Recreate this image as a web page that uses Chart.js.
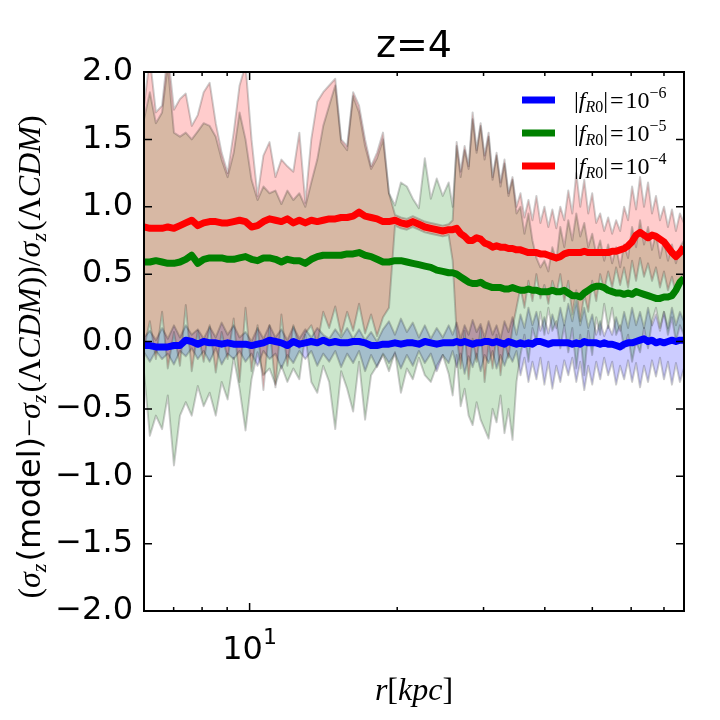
<!DOCTYPE html>
<html>
<head>
<meta charset="utf-8">
<script src="https://cdn.jsdelivr.net/npm/chart.js@4.4.1/dist/chart.umd.min.js"></script>
<style>
html, body { margin: 0; padding: 0; background: #fff; }
#wrap { width: 720px; height: 720px; }
</style>
</head>
<body>
<div id="wrap"><canvas id="chart" width="720" height="720"></canvas></div>
<script>
// radius in kpc (log axis)
var rKpc = [6.09, 6.26, 6.44, 6.63, 6.81, 7.01, 7.21, 7.41, 7.62, 7.84,
    8.06, 8.29, 8.53, 8.77, 9.02, 9.28, 9.54, 9.81, 10.09, 10.38,
    10.67, 10.98, 11.29, 11.61, 11.94, 12.28, 12.63, 12.99, 13.36, 13.74,
    14.13, 14.53, 14.95, 15.37, 15.81, 16.26, 16.72, 17.20, 17.69, 18.19,
    18.71, 19.24, 19.79, 20.35, 20.93, 21.52, 22.14, 22.77, 23.42, 24.08,
    24.77, 25.47,
    25.95, 26.44, 26.94, 27.45, 27.97, 28.50, 29.04, 29.59, 30.15, 30.72,
    31.30, 31.89, 32.49, 33.10, 33.73, 34.37, 35.02, 35.68, 36.35, 37.04,
    37.74, 38.45, 39.18, 39.92, 40.67, 41.44, 42.22, 43.02, 43.83, 44.66,
    45.51, 46.37, 47.24, 48.14, 49.05, 49.97, 50.92, 51.88, 52.86, 53.86,
    54.88, 55.91, 56.97, 58.05, 59.14, 60.26, 61.40, 62.56, 63.74, 64.95,
    66.17, 67.42, 68.70, 70.00, 71.32, 72.67, 74.04, 75.44, 76.87];

// mean curves
var blueMid = [-0.03, -0.03, -0.04, -0.04, -0.04, -0.03, -0.03, 0.01, 0.00, -0.02,
    0.00, -0.01, -0.01, -0.02, -0.01, -0.02, -0.02, -0.02, -0.03, -0.02,
    -0.01, 0.01, 0.00, -0.01, -0.03, 0.00, -0.02, -0.01, 0.00, -0.01,
    0.01, -0.01, 0.00, -0.01, -0.01, 0.00, 0.00, -0.01, -0.03, -0.03,
    -0.02, -0.02, -0.01, -0.02, -0.01, -0.01, -0.02, 0.00, -0.01, -0.02,
    -0.01, -0.01,
    -0.01, 0.00, -0.01, 0.00, -0.01, -0.02, -0.01, -0.01, 0.00, 0.00,
    -0.01, 0.00, -0.01, -0.02, 0.00, -0.01, -0.02, -0.01, -0.02, -0.01,
    -0.02, 0.00, 0.00, -0.01, -0.02, -0.01, -0.01, -0.01, -0.01, -0.01,
    -0.02, -0.01, -0.02, 0.00, -0.01, -0.01, -0.01, -0.02, -0.01, -0.02,
    -0.02, -0.03, -0.04, -0.02, -0.01, -0.01, 0.00, 0.01, 0.02, 0.00,
    0.01, -0.01, 0.00, -0.01, 0.00, 0.01, 0.00, 0.01, 0.01];
var greenMid = [0.59, 0.59, 0.60, 0.59, 0.58, 0.58, 0.59, 0.61, 0.64, 0.58,
    0.61, 0.62, 0.62, 0.62, 0.61, 0.61, 0.62, 0.63, 0.61, 0.60,
    0.62, 0.62, 0.61, 0.59, 0.61, 0.60, 0.60, 0.58, 0.61, 0.63,
    0.64, 0.64, 0.64, 0.64, 0.65, 0.65, 0.66, 0.64, 0.63, 0.61,
    0.59, 0.59, 0.60, 0.60, 0.59, 0.58, 0.57, 0.56, 0.55, 0.53,
    0.52, 0.51,
    0.51, 0.50, 0.48, 0.46, 0.44, 0.43, 0.43, 0.44, 0.42, 0.41,
    0.40, 0.40, 0.40, 0.39, 0.39, 0.40, 0.39, 0.38, 0.38, 0.39,
    0.38, 0.38, 0.37, 0.37, 0.37, 0.38, 0.37, 0.37, 0.38, 0.36,
    0.34, 0.34, 0.33, 0.36, 0.38, 0.40, 0.41, 0.41, 0.40, 0.38,
    0.37, 0.36, 0.36, 0.35, 0.36, 0.35, 0.37, 0.36, 0.35, 0.34,
    0.33, 0.32, 0.32, 0.33, 0.33, 0.34, 0.38, 0.44, 0.47];
var redMid = [0.85, 0.84, 0.84, 0.84, 0.85, 0.84, 0.86, 0.88, 0.90, 0.86,
    0.88, 0.89, 0.89, 0.88, 0.88, 0.89, 0.90, 0.89, 0.85, 0.86,
    0.89, 0.91, 0.90, 0.89, 0.91, 0.88, 0.90, 0.88, 0.90, 0.89,
    0.90, 0.91, 0.91, 0.92, 0.92, 0.93, 0.96, 0.93, 0.92, 0.91,
    0.89, 0.89, 0.90, 0.88, 0.87, 0.89, 0.87, 0.85, 0.84, 0.83,
    0.82, 0.83,
    0.83, 0.84, 0.80, 0.78, 0.75, 0.75, 0.77, 0.76, 0.73, 0.72,
    0.70, 0.71, 0.70, 0.70, 0.69, 0.69, 0.68, 0.68, 0.67, 0.66,
    0.66, 0.66, 0.65, 0.65, 0.64, 0.63, 0.62, 0.63, 0.65, 0.66,
    0.66, 0.66, 0.66, 0.67, 0.66, 0.66, 0.66, 0.66, 0.66, 0.66,
    0.67, 0.67, 0.68, 0.69, 0.71, 0.74, 0.79, 0.81, 0.79, 0.77,
    0.79, 0.78, 0.76, 0.74, 0.70, 0.66, 0.63, 0.66, 0.70];

// scatter bands (upper / lower edges)
var blueHi = [0.03, 0.08, 0.01, 0.10, 0.02, 0.12, 0.03, 0.12, 0.05, 0.09,
    0.02, 0.11, 0.03, 0.14, 0.05, 0.12, 0.03, 0.07, 0.00, 0.10,
    0.02, 0.12, 0.03, 0.09, 0.01, 0.11, 0.02, 0.09, 0.03, 0.10,
    0.05, 0.02, 0.09, 0.03, 0.10, 0.02, 0.09, 0.01, 0.07, 0.00,
    0.09, 0.15, 0.05, 0.17, 0.07, 0.14, 0.03, 0.12, 0.02, 0.10,
    0.03, 0.12,
    0.05, 0.14, 0.02, 0.12, 0.05, 0.16, 0.07, 0.13, 0.03, 0.15,
    0.05, 0.12, 0.02, 0.15, 0.07, 0.18, 0.05, 0.20, 0.10, 0.25,
    0.12, 0.22, 0.08, 0.18, 0.06, 0.20, 0.10, 0.25, 0.12, 0.28,
    0.15, 0.30, 0.12, 0.25, 0.10, 0.20, 0.05, 0.15, 0.04, 0.12,
    0.05, 0.18, 0.08, 0.22, 0.10, 0.25, 0.12, 0.22, 0.10, 0.25,
    0.12, 0.20, 0.08, 0.22, 0.10, 0.25, 0.12, 0.22, 0.15];
var blueLo = [-0.08, -0.15, -0.07, -0.13, -0.09, -0.17, -0.07, -0.11, -0.05, -0.13,
    -0.07, -0.15, -0.05, -0.17, -0.09, -0.13, -0.07, -0.15, -0.09, -0.18,
    -0.07, -0.13, -0.09, -0.20, -0.10, -0.16, -0.07, -0.13, -0.07, -0.18,
    -0.09, -0.15, -0.07, -0.19, -0.09, -0.16, -0.07, -0.22, -0.10, -0.19,
    -0.09, -0.16, -0.09, -0.20, -0.10, -0.18, -0.07, -0.16, -0.09, -0.22,
    -0.10, -0.16,
    -0.07, -0.19, -0.09, -0.24, -0.11, -0.19, -0.09, -0.22, -0.10, -0.16,
    -0.07, -0.20, -0.10, -0.18, -0.09, -0.15, -0.07, -0.25, -0.12, -0.30,
    -0.15, -0.28, -0.12, -0.32, -0.15, -0.35, -0.18, -0.30, -0.14, -0.25,
    -0.12, -0.30, -0.15, -0.36, -0.18, -0.32, -0.15, -0.28, -0.12, -0.25,
    -0.15, -0.32, -0.18, -0.28, -0.14, -0.30, -0.16, -0.34, -0.18, -0.30,
    -0.14, -0.26, -0.12, -0.28, -0.15, -0.32, -0.16, -0.30, -0.20];
var greenHi = [1.65, 1.85, 1.62, 1.70, 2.05, 1.55, 1.52, 1.55, 1.50, 1.56,
    1.62, 1.60, 1.52, 1.35, 1.22, 1.40, 1.70, 1.50, 1.20, 1.05,
    1.15, 1.10, 1.12, 1.02, 1.12, 1.05, 1.10, 1.00, 1.18, 1.35,
    1.60, 1.75, 1.90, 1.48, 1.42, 1.82, 1.70, 1.45, 1.28, 1.36,
    1.50, 1.10, 1.01, 1.18, 1.15, 1.06, 0.99, 1.36, 1.06, 1.21,
    1.08, 1.18,
    1.00, 1.45, 1.22, 1.42, 1.28, 1.65, 1.40, 1.60, 1.35, 1.52,
    1.20, 1.38, 1.15, 1.32, 1.08, 1.20, 0.95, 1.00, 0.80, 0.95,
    0.75, 0.62, 0.55, 0.60, 0.52, 0.70, 0.60, 0.85, 0.70, 0.90,
    0.75, 0.95, 0.78, 0.88, 0.70, 0.80, 0.65, 0.75, 0.60, 0.72,
    0.58, 0.70, 0.55, 0.72, 0.62, 0.85, 0.70, 0.90, 0.72, 0.85,
    0.68, 0.80, 0.62, 0.75, 0.60, 0.72, 0.58, 0.70, 0.75];
var greenLo = [-0.23, -0.70, -0.55, -0.65, -0.40, -0.92, -0.55, -0.45, -0.55, -0.33,
    -0.48, -0.38, -0.55, -0.30, -0.43, -0.12, -0.35, -0.66, -0.28, -0.08,
    -0.25, -0.20, -0.32, -0.18, -0.30, -0.20, -0.28, 0.05, -0.30, -0.38,
    -0.18, -0.30, -0.65, -0.22, -0.35, -0.52, -0.15, -0.58, -0.25, -0.18,
    -0.10, -0.22, -0.08, -0.38, -0.20, -0.28, -0.12, -0.25, -0.30, -0.18,
    -0.10, -0.24,
    -0.40, -0.10, -0.48, -0.35, -0.55, -0.62, -0.45, -0.58, -0.65, -0.72,
    -0.50, -0.60, -0.40, -0.68, -0.50, -0.73, -0.30, -0.10, 0.05, -0.15,
    0.10, 0.00, 0.22, 0.05, 0.25, 0.08, 0.15, -0.05, 0.12, -0.08,
    0.10, -0.20, 0.05, -0.25, 0.08, -0.10, 0.18, 0.05, 0.28, 0.10,
    0.25, 0.05, 0.12, -0.05, 0.05, -0.15, 0.00, -0.08, 0.10, -0.05,
    0.15, 0.25, 0.10, 0.22, 0.05, 0.18, 0.00, 0.12, 0.05];
var redHi = [1.75, 2.10, 1.70, 1.75, 2.15, 1.72, 1.80, 1.84, 1.60, 1.68,
    1.85, 1.92, 1.62, 1.40, 1.25, 1.55, 1.90, 2.05, 1.50, 1.08,
    1.38, 1.48, 1.22, 1.35, 1.30, 1.26, 1.55, 1.03, 1.50, 1.78,
    1.85, 1.90, 1.95, 1.50, 1.45, 1.85, 1.75, 1.50, 1.30, 1.40,
    1.55, 1.10, 0.94, 0.92, 0.91, 0.93, 0.91, 0.89, 0.88, 0.87,
    0.86, 0.87,
    0.90, 1.48, 1.26, 1.45, 1.30, 1.70, 1.42, 1.62, 1.38, 1.55,
    1.22, 1.40, 1.18, 1.35, 1.10, 1.22, 1.00, 1.10, 0.92, 1.05,
    0.90, 1.08, 0.88, 1.00, 0.85, 0.98, 0.84, 1.00, 0.90, 1.12,
    0.95, 1.25, 1.00, 1.20, 0.95, 1.10, 0.88, 0.95, 0.82, 0.92,
    0.80, 0.90, 0.82, 1.00, 0.90, 1.15, 0.98, 1.22, 1.00, 1.18,
    0.95, 1.08, 0.90, 1.00, 0.85, 0.98, 0.82, 0.95, 0.88];
var redLo = [-0.05, 0.15, -0.13, 0.22, -0.20, 0.07, -0.18, 0.27, -0.22, 0.08,
    -0.15, 0.12, -0.23, 0.07, -0.13, 0.17, -0.30, 0.25, -0.22, 0.12,
    -0.36, 0.12, -0.34, 0.20, -0.18, 0.12, -0.05, 0.06, 0.12, -0.02,
    0.22, 0.10, 0.26, 0.05, 0.22, 0.08, 0.28, 0.06, 0.20, 0.04,
    0.18, 0.25, 0.86, 0.84, 0.83, 0.85, 0.83, 0.81, 0.80, 0.79,
    0.78, 0.79,
    0.60, 0.05, -0.20, 0.08, -0.28, 0.02, -0.15, 0.10, -0.30, -0.02,
    -0.20, 0.05, -0.25, 0.00, -0.12, 0.10, 0.25, 0.40, 0.25, 0.45,
    0.30, 0.50, 0.32, 0.42, 0.28, 0.45, 0.35, 0.50, 0.30, 0.45,
    0.20, 0.38, 0.15, 0.35, 0.22, 0.45, 0.30, 0.50, 0.38, 0.52,
    0.40, 0.55, 0.42, 0.55, 0.40, 0.60, 0.45, 0.62, 0.48, 0.58,
    0.45, 0.55, 0.40, 0.52, 0.38, 0.48, 0.35, 0.45, 0.50];

var xTickValues = [7, 8, 9, 10, 20, 30, 40, 50, 60, 70];
var legendLabels = ['−6', '−5', '−4'];   // exponents of |f_R0|
var legendColors = ['#0000ff', '#008000', '#ff0000'];

var SANS = '"DejaVu Sans", sans-serif';
var SERIF = '"Liberation Serif", "DejaVu Serif", serif';

function pts(vals) {
    return rKpc.map(function (r, i) { return { x: r, y: vals[i] }; });
}

function meanLine(color, vals) {
    return {
        data: pts(vals), borderColor: color, borderWidth: 7, fill: false,
        borderJoinStyle: 'round', pointRadius: 0, order: 0
    };
}

function bandEdge(vals, fillColor) {
    return {
        data: pts(vals), borderColor: 'rgba(0,0,0,0.2)', borderWidth: 2,
        borderJoinStyle: 'round', backgroundColor: fillColor || 'transparent',
        fill: fillColor ? '+1' : false, pointRadius: 0, order: 1
    };
}

// bands listed red first so the filler paints blue, green, then red on top
var datasets = [
    meanLine('#0000ff', blueMid),
    meanLine('#008000', greenMid),
    meanLine('#ff0000', redMid),
    bandEdge(redHi, 'rgba(255,0,0,0.2)'),
    bandEdge(redLo),
    bandEdge(greenHi, 'rgba(0,128,0,0.2)'),
    bandEdge(greenLo),
    bandEdge(blueHi, 'rgba(0,0,255,0.2)'),
    bandEdge(blueLo)
];

// draws pieces of text with changing fonts and baseline shifts
function runWidth(ctx, runs) {
    var w = 0;
    runs.forEach(function (r) { ctx.font = r[1]; w += ctx.measureText(r[0]).width + (r[3] || 0); });
    return w;
}
function drawRuns(ctx, runs, x, y) {
    var cx = x;
    runs.forEach(function (r) {
        ctx.font = r[1];
        ctx.fillText(r[0], cx, y + (r[2] || 0));
        cx += ctx.measureText(r[0]).width + (r[3] || 0);
    });
}

var decorPlugin = {
    id: 'decor',
    afterDraw: function (chart) {
        var ctx = chart.ctx;
        var a = chart.chartArea;
        var xs = chart.scales.x;
        var ys = chart.scales.y;
        ctx.save();
        ctx.strokeStyle = '#000';
        ctx.fillStyle = '#000';

        // inward ticks
        ctx.lineWidth = 1.5;
        ctx.beginPath();
        ys.ticks.forEach(function (t) {
            var py = ys.getPixelForValue(t.value);
            ctx.moveTo(a.left, py); ctx.lineTo(a.left + 8, py);
            ctx.moveTo(a.right, py); ctx.lineTo(a.right - 8, py);
        });
        xs.ticks.forEach(function (t) {
            var px = xs.getPixelForValue(t.value);
            var len = t.value === 10 ? 8 : 4;
            ctx.moveTo(px, a.bottom); ctx.lineTo(px, a.bottom - len);
            ctx.moveTo(px, a.top); ctx.lineTo(px, a.top + len);
        });
        ctx.stroke();

        // frame
        ctx.lineWidth = 2;
        ctx.strokeRect(a.left, a.top, a.right - a.left, a.bottom - a.top);

        ctx.textBaseline = 'alphabetic';
        ctx.textAlign = 'left';

        // title
        ctx.font = '38px ' + SANS;
        var tw = ctx.measureText('z=4').width;
        ctx.fillText('z=4', (a.left + a.right) / 2 - tw / 2, 57);

        // x tick label 10^1
        var p10 = xs.getPixelForValue(10);
        var tick = [['10', '32px ' + SANS, 0], ['1', '22px ' + SANS, -15]];
        drawRuns(ctx, tick, p10 - runWidth(ctx, tick) / 2, 659);

        // x title
        var xt = [['r', 'italic 32px ' + SERIF, 0], ['[', '32px ' + SERIF, 0],
            ['kpc', 'italic 32px ' + SERIF, 0], [']', '32px ' + SERIF, 0]];
        drawRuns(ctx, xt, (a.left + a.right) / 2 - runWidth(ctx, xt) / 2, 700);

        // y title
        var M = '32px ' + SERIF, MI = 'italic 32px ' + SERIF, SI = 'italic 22px ' + SERIF;
        var yt = [
            ['(', M, 0], ['σ', MI, 0], ['z', SI, 6, 2], ['(model)', '32px ' + SANS, 0],
            ['−', M, 0], ['σ', MI, 0], ['z', SI, 6, 2], ['(Λ', M, 0], ['CDM', MI, 0],
            ['))/', M, 0], ['σ', MI, 0], ['z', SI, 6, 2], ['(Λ', M, 0], ['CDM', MI, 0], [')', M, 0]
        ];
        ctx.save();
        ctx.translate(40, 357);
        ctx.rotate(-Math.PI / 2);
        drawRuns(ctx, yt, -runWidth(ctx, yt) / 2, 0);
        ctx.restore();

        // legend
        legendLabels.forEach(function (lab, i) {
            var ly = 100 + i * 33;
            ctx.strokeStyle = legendColors[i];
            ctx.lineWidth = 7;
            ctx.beginPath();
            ctx.moveTo(522, ly); ctx.lineTo(555, ly);
            ctx.stroke();
            var runs = [['|', '24px ' + SERIF, 0], ['f', 'italic 24px ' + SERIF, 0],
                ['R', 'italic 16px ' + SERIF, 4], ['0', '16px ' + SERIF, 4],
                ['|', '24px ' + SERIF, 0, 2], ['=', '24px ' + SERIF, 0, 2],
                ['10', '24px ' + SERIF, 0], [lab, '16px ' + SERIF, -10]];
            drawRuns(ctx, runs, 574, ly + 8);
        });
        ctx.restore();
    }
};

var ctx = document.getElementById('chart').getContext('2d');
var chart = new Chart(ctx, {
    type: 'line',
    data: { datasets: datasets },
    options: {
        responsive: false,
        devicePixelRatio: 1,
        animation: false,
        events: [],
        layout: { padding: { left: 0, right: 36, top: 72, bottom: 0 } },
        elements: { point: { radius: 0 }, line: { tension: 0 } },
        plugins: {
            legend: { display: false },
            tooltip: { enabled: false },
            title: { display: false },
            filler: { drawTime: 'beforeDatasetsDraw' }
        },
        scales: {
            x: {
                type: 'logarithmic', min: 6.09, max: 76.9,
                grid: { display: false, drawTicks: false },
                border: { display: false },
                ticks: { display: false },
                afterBuildTicks: function (scale) {
                    scale.ticks = xTickValues.map(function (v) { return { value: v }; });
                },
                afterFit: function (scale) { scale.height = 109; }
            },
            y: {
                min: -2, max: 2,
                grid: { display: false, drawTicks: false },
                border: { display: false },
                ticks: {
                    stepSize: 0.5, padding: 11, color: '#000',
                    font: { family: SANS, size: 32 },
                    callback: function (v) { return (v < 0 ? '−' : '') + Math.abs(v).toFixed(1); }
                },
                afterFit: function (scale) { scale.width = 144; }
            }
        }
    },
    plugins: [decorPlugin]
});
</script>
</body>
</html>
